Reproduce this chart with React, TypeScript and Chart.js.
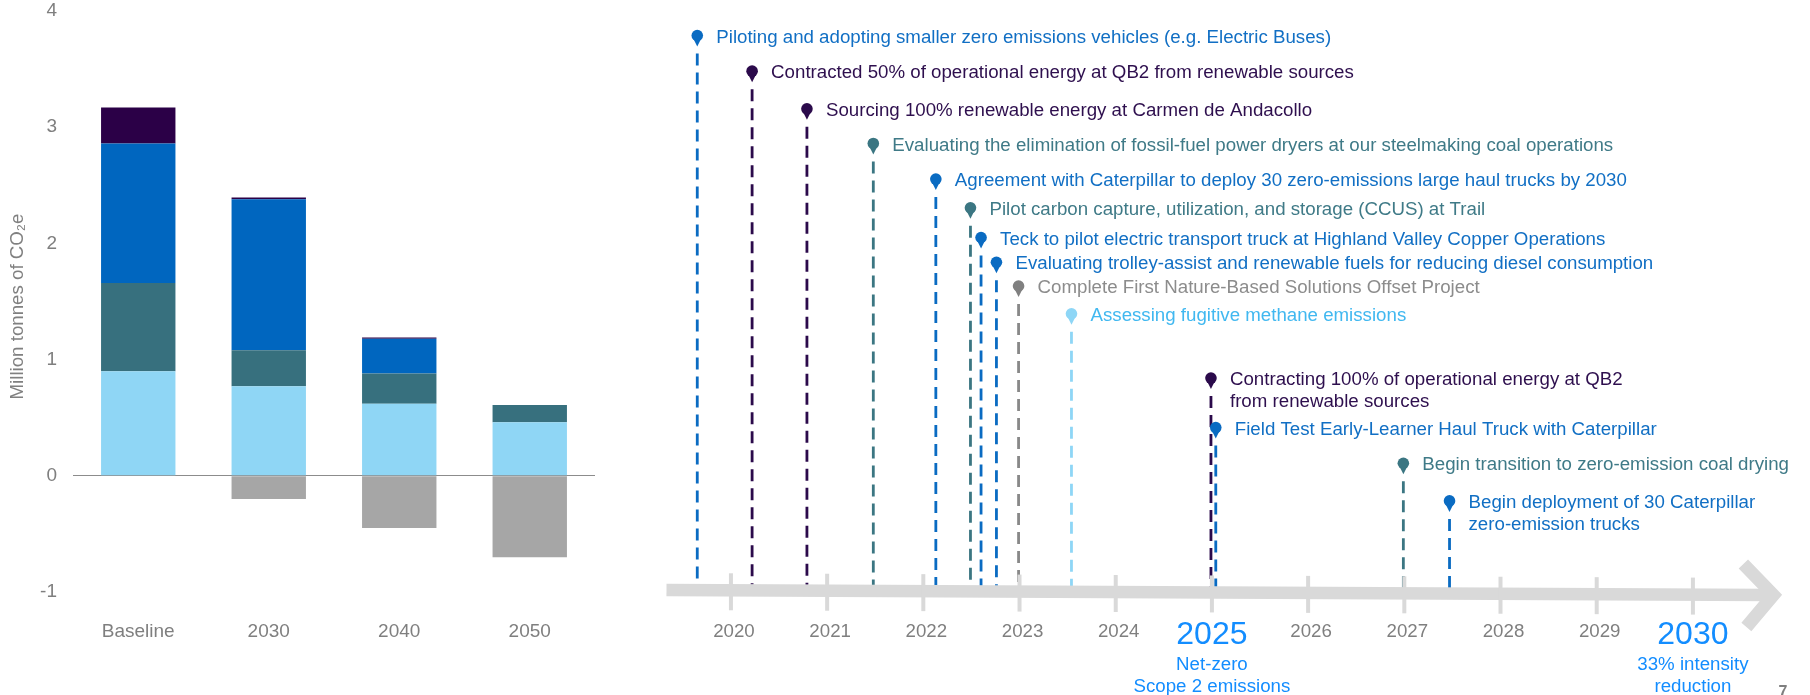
import React, { useEffect, useRef } from "react";
import { Chart, registerables } from "chart.js";

Chart.register(...registerables);

const FONT = "'Liberation Sans', Arial, Helvetica, sans-serif";
Chart.defaults.font.family = FONT;

// ---------- Left chart data (million tonnes CO2e) ----------
const categories = ["Baseline", "2030", "2040", "2050"];
const seriesLight = [0.9, 0.77, 0.62, 0.46];
const seriesTeal = [0.76, 0.31, 0.26, 0.15];
const seriesBlue = [1.2, 1.3, 0.3, 0];
const seriesPurple = [0.31, 0.015, 0.01, 0];
const seriesOffsets = [0, -0.2, -0.45, -0.7];
const yTicks = [-1, 0, 1, 2, 3, 4];
const yTitle = "Million tonnes of CO\u2082e";

// ---------- Timeline data ----------
const milestoneLabels = [
  "Piloting and adopting smaller zero emissions vehicles (e.g. Electric Buses)",
  "Contracted 50% of operational energy at QB2 from renewable sources",
  "Sourcing 100% renewable energy at Carmen de Andacollo",
  "Evaluating the elimination of fossil-fuel power dryers at our steelmaking coal operations",
  "Agreement with Caterpillar to deploy 30 zero-emissions large haul trucks by 2030",
  "Pilot carbon capture, utilization, and storage (CCUS) at Trail",
  "Teck to pilot electric transport truck at Highland Valley Copper Operations",
  "Evaluating trolley-assist and renewable fuels for reducing diesel consumption",
  "Complete First Nature-Based Solutions Offset Project",
  "Assessing fugitive methane emissions",
  "Contracting 100% of operational energy at QB2\nfrom renewable sources",
  "Field Test Early-Learner Haul Truck with Caterpillar",
  "Begin transition to zero-emission coal drying",
  "Begin deployment of 30 Caterpillar\nzero-emission trucks",
];
const milestoneYears = [
  2019.65, 2020.22, 2020.79, 2021.48, 2022.13, 2022.49, 2022.6, 2022.76,
  2022.99, 2023.54, 2024.99, 2025.04, 2026.99, 2027.47,
];
const milestoneHeights = [561, 525, 487, 452, 416, 387, 357, 332, 308, 280, 215, 165, 129, 91];
const milestoneGroups = [
  "blue", "purple", "purple", "teal", "blue", "teal", "blue", "blue",
  "gray", "light", "purple", "blue", "teal", "blue",
];
const timelineYears = [2020, 2021, 2022, 2023, 2024, 2025, 2026, 2027, 2028, 2029, 2030];
const highlightYears = [2025, 2030];
const highlightNotes = [
  ["Net-zero", "Scope 2 emissions"],
  ["33% intensity", "reduction"],
];
const pageNumber = "7";

const groupColors: Record<string, { dot: string; line: string; text: string }> = {
  blue: { dot: "#0A6BC2", line: "#0A6BC2", text: "#116FC4" },
  purple: { dot: "#2B0A4B", line: "#2B0A4B", text: "#2E0F4E" },
  teal: { dot: "#3B7682", line: "#3B7682", text: "#3F7A87" },
  gray: { dot: "#808080", line: "#888888", text: "#8C8C8C" },
  light: { dot: "#8ED6F6", line: "#8ED6F6", text: "#41B8F0" },
};

const yTitlePlugin = {
  id: "yTitleDraw",
  afterDraw(chart: any) {
    const { ctx, chartArea } = chart;
    ctx.save();
    ctx.translate(18, (chartArea.top + chartArea.bottom) / 2 + 5);
    ctx.rotate(-Math.PI / 2);
    ctx.fillStyle = "#808080";
    ctx.font = `18.7px ${FONT}`;
    ctx.textAlign = "center";
    ctx.textBaseline = "middle";
    ctx.fillText(yTitle, 0, 0);
    ctx.restore();
  },
};

const timelinePlugin = {
  id: "timelineDecor",
  beforeDatasetsDraw(chart: any) {
    const { ctx, scales } = chart;
    const x = scales.x;
    const y = scales.y;
    const baseY = y.getPixelForValue(0);
    ctx.save();
    // stems
    milestoneYears.forEach((yr, i) => {
      const px = x.getPixelForValue(yr);
      const py = y.getPixelForValue(milestoneHeights[i]);
      const c = groupColors[milestoneGroups[i]];
      ctx.strokeStyle = c.line;
      ctx.lineWidth = 2.8;
      ctx.setLineDash([12, 7]);
      ctx.beginPath();
      ctx.moveTo(px, py + 18);
      ctx.lineTo(px, baseY);
      ctx.stroke();
      ctx.setLineDash([]);
      ctx.fillStyle = c.dot;
      ctx.beginPath();
      ctx.moveTo(px - 4, py + 3);
      ctx.lineTo(px + 4, py + 3);
      ctx.lineTo(px, py + 11);
      ctx.closePath();
      ctx.fill();
    });
    // axis bar
    const xs = x.getPixelForValue(2019.33);
    const tipX = x.getPixelForValue(2030.93);
    const slope = 5 / (tipX - xs);
    const axisYAt = (px: number) => baseY - 1 + slope * (px - xs);
    ctx.strokeStyle = "#D9D9D9";
    ctx.lineCap = "butt";
    ctx.lineWidth = 12.5;
    ctx.beginPath();
    ctx.moveTo(xs, axisYAt(xs));
    ctx.lineTo(tipX - 14, axisYAt(tipX - 14));
    ctx.stroke();
    // chevron
    const ty = axisYAt(tipX);
    ctx.lineWidth = 13;
    ctx.lineJoin = "miter";
    ctx.beginPath();
    ctx.moveTo(tipX - 39, ty - 31);
    ctx.lineTo(tipX - 9, ty);
    ctx.lineTo(tipX - 36, ty + 32);
    ctx.stroke();
    // ticks
    ctx.lineWidth = 4;
    timelineYears.forEach((yr) => {
      const px = x.getPixelForValue(yr);
      const ay = axisYAt(px);
      ctx.beginPath();
      ctx.moveTo(px, ay - 17);
      ctx.lineTo(px, ay + 20);
      ctx.stroke();
    });
    ctx.restore();
  },
  afterDatasetsDraw(chart: any) {
    const { ctx, scales } = chart;
    const x = scales.x;
    const y = scales.y;
    const baseY = y.getPixelForValue(0);
    ctx.save();
    // milestone labels
    ctx.font = `18.7px ${FONT}`;
    ctx.textAlign = "left";
    ctx.textBaseline = "middle";
    milestoneLabels.forEach((lab, i) => {
      const px = x.getPixelForValue(milestoneYears[i]);
      const py = y.getPixelForValue(milestoneHeights[i]);
      ctx.fillStyle = groupColors[milestoneGroups[i]].text;
      lab.split("\n").forEach((line, j) => {
        ctx.fillText(line, px + 19, py + 2 + j * 21.7);
      });
    });
    // year labels
    ctx.textAlign = "center";
    timelineYears.forEach((yr) => {
      const px = x.getPixelForValue(yr);
      const hi = highlightYears.indexOf(yr);
      if (hi < 0) {
        ctx.fillStyle = "#7F7F7F";
        ctx.font = `18.7px ${FONT}`;
        ctx.fillText(String(yr), px + 3, baseY + 41);
      } else {
        ctx.fillStyle = "#138DFF";
        ctx.font = `32px ${FONT}`;
        ctx.fillText(String(yr), px, baseY + 44);
        ctx.font = `18.7px ${FONT}`;
        highlightNotes[hi].forEach((n, j) => {
          ctx.fillText(n, px, baseY + 74 + j * 22);
        });
      }
    });
    // page number
    ctx.fillStyle = "#7F7F7F";
    ctx.font = `bold 16px ${FONT}`;
    ctx.textBaseline = "alphabetic";
    ctx.fillText(pageNumber, chart.width - 27, chart.height + 2);
    ctx.restore();
  },
};

export default function App() {
  const barRef = useRef<HTMLCanvasElement>(null);
  const tlRef = useRef<HTMLCanvasElement>(null);

  useEffect(() => {
    const bar = new Chart(barRef.current as HTMLCanvasElement, {
      type: "bar",
      data: {
        labels: categories,
        datasets: [
          { label: "Light", data: seriesLight, backgroundColor: "#8FD6F5" },
          { label: "Teal", data: seriesTeal, backgroundColor: "#37707E" },
          { label: "Blue", data: seriesBlue, backgroundColor: "#0066BF" },
          { label: "Purple", data: seriesPurple, backgroundColor: "#2B0047" },
          { label: "Offsets", data: seriesOffsets, backgroundColor: "#A6A6A6" },
        ],
      },
      options: {
        responsive: false,
        animation: false,
        events: [],
        layout: { autoPadding: false, padding: { top: 11, right: 25, left: 0, bottom: 0 } },
        plugins: { legend: { display: false }, tooltip: { enabled: false } },
        datasets: { bar: { categoryPercentage: 1, barPercentage: 0.57, borderWidth: 0 } },
        scales: {
          x: {
            stacked: true,
            grid: { display: false, drawTicks: false },
            border: { display: false },
            ticks: { color: "#7F7F7F", font: { size: 19, family: FONT }, padding: 28 },
            afterFit: (s: any) => {
              s.height = 103;
              s.paddingLeft = 0;
              s.paddingRight = 0;
            },
          },
          y: {
            stacked: true,
            min: -1,
            max: 4,
            afterBuildTicks: (s: any) => {
              s.ticks = yTicks.map((v) => ({ value: v }));
            },
            grid: {
              drawTicks: false,
              lineWidth: 1,
              color: (c: any) => (c.tick && c.tick.value === 0 ? "#8C8C8C" : "rgba(0,0,0,0)"),
            },
            border: { display: false },
            ticks: { color: "#7F7F7F", font: { size: 19, family: FONT }, padding: 16 },
            title: { display: false },
            afterFit: (s: any) => {
              s.width = 73;
              s.paddingTop = 0;
              s.paddingBottom = 0;
            },
          },
        },
      },
      plugins: [yTitlePlugin],
    } as any);

    const tl = new Chart(tlRef.current as HTMLCanvasElement, {
      type: "scatter",
      data: {
        datasets: [
          {
            label: "Milestones",
            data: milestoneYears.map((yr, i) => ({ x: yr, y: milestoneHeights[i] })),
            pointRadius: 5.8,
            pointHoverRadius: 5.8,
            pointBorderWidth: 0,
            pointBackgroundColor: milestoneGroups.map((g) => groupColors[g].dot),
          },
        ],
      },
      options: {
        responsive: false,
        animation: false,
        events: [],
        layout: { padding: { left: 23.6, right: 20.9, top: 0, bottom: 104 } },
        plugins: { legend: { display: false }, tooltip: { enabled: false } },
        scales: {
          x: { type: "linear", min: 2019.3, max: 2031, display: false },
          y: { type: "linear", min: 0, max: 591, display: false },
        },
      },
      plugins: [timelinePlugin],
    } as any);

    return () => {
      bar.destroy();
      tl.destroy();
    };
  }, []);

  return (
    <div
      style={{
        position: "absolute",
        left: 0,
        top: 0,
        width: 1810,
        height: 695,
        background: "#ffffff",
        overflow: "hidden",
      }}
    >
      <canvas ref={barRef} width={620} height={695} style={{ position: "absolute", left: 0, top: 0 }} />
      <canvas ref={tlRef} width={1170} height={695} style={{ position: "absolute", left: 640, top: 0 }} />
    </div>
  );
}
